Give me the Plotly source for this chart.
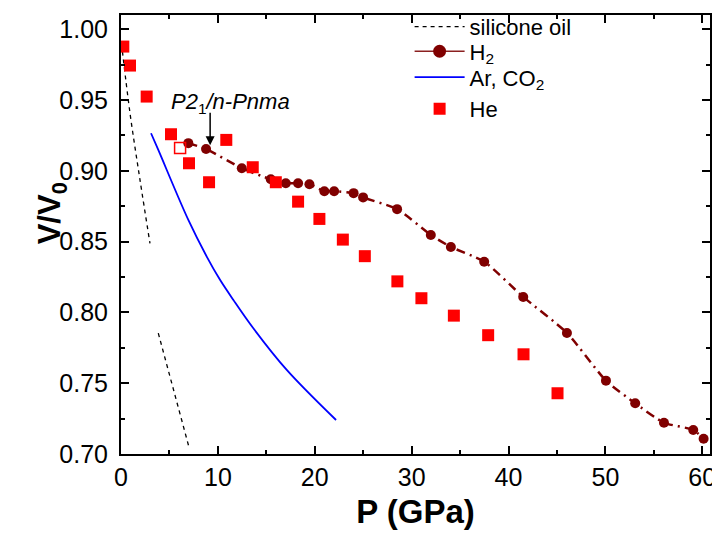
import plotly.graph_objects as go

# ---- data ----
sil_hi_p = [0.05, 0.93, 1.96, 2.99]
sil_hi_v = [0.990, 0.9407, 0.8936, 0.8488]
sil_lo_p = [3.85, 5.40, 7.05]
sil_lo_v = [0.7853, 0.7452, 0.7040]

h2_p = [6.95, 8.78, 12.47, 15.46, 17.01, 18.28, 19.45, 20.99, 22.00, 24.01, 24.99,
        28.50, 31.98, 34.05, 37.49, 41.52, 46.03, 50.06, 53.08, 56.05, 59.07, 60.14]
h2_v = [0.9195, 0.9154, 0.9018, 0.8940, 0.8912, 0.8912, 0.8905, 0.8856, 0.8856, 0.8842, 0.8812,
        0.8729, 0.8547, 0.8462, 0.8358, 0.8109, 0.7855, 0.7518, 0.7358, 0.7221, 0.7170, 0.7108]

ar_p = [3.10, 3.85, 6.95, 8.85, 10.22, 11.60, 13.66, 17.11, 22.20]
ar_v = [0.9265, 0.9147, 0.8653, 0.8394, 0.8230, 0.8088, 0.7888, 0.7594, 0.7240]

he_p = [0.24, 0.93, 2.65, 5.16, 7.02, 9.09, 10.87, 13.60, 15.98, 18.28, 20.48,
        22.90, 25.17, 28.53, 31.01, 34.36, 37.90, 41.55, 45.06]
he_v = [0.9877, 0.9743, 0.9524, 0.9258, 0.9053, 0.8919, 0.9218, 0.9025, 0.8919, 0.8782, 0.8660,
        0.8514, 0.8397, 0.8219, 0.8100, 0.7977, 0.7839, 0.7704, 0.7429]

he_open_p = [6.10]
he_open_v = [0.916]

x_ticks = [0, 10, 20, 30, 40, 50, 60]
y_ticks = [0.70, 0.75, 0.80, 0.85, 0.90, 0.95, 1.00]

DARK = "#800000"
FONT = "Liberation Sans, Arial"

fig = go.Figure()

fig.add_trace(go.Scatter(x=sil_hi_p, y=sil_hi_v, mode="lines", name="silicone oil", legend="legend",
                         line=dict(color="black", width=1.3, dash="4px,4px"), line_shape="spline"))
fig.add_trace(go.Scatter(x=sil_lo_p, y=sil_lo_v, mode="lines", showlegend=False,
                         line=dict(color="black", width=1.3, dash="4px,4px")))
# legend stand-in for H2 (solid line with circle)
fig.add_trace(go.Scatter(x=[None], y=[None], mode="lines+markers", name="H<sub>2</sub>", legend="legend2",
                         line=dict(color="#8b2020", width=1.5),
                         marker=dict(symbol="circle", size=13, color=DARK)))
fig.add_trace(go.Scatter(x=h2_p, y=h2_v, mode="lines+markers", showlegend=False,
                         line=dict(color=DARK, width=2.5, dash="9px,5px,2px,5px", shape="spline", smoothing=0.6),
                         marker=dict(symbol="circle", size=10, color=DARK)))
fig.add_trace(go.Scatter(x=ar_p, y=ar_v, mode="lines", name="Ar, CO<sub>2</sub>", legend="legend3",
                         line=dict(color="#0000ff", width=1.8, shape="spline")))
fig.add_trace(go.Scatter(x=he_p, y=he_v, mode="markers", name="He", legend="legend4",
                         marker=dict(symbol="square", size=12, color="#ff0000")))
fig.add_trace(go.Scatter(x=he_open_p, y=he_open_v, mode="markers", showlegend=False,
                         marker=dict(symbol="square-open", size=11, color="#ff0000", line=dict(width=1.5))))

# annotation with arrow
fig.add_annotation(x=9.2, y=0.918, xref="x", yref="y", ax=0, ay=-34, text="",
                   showarrow=True, arrowhead=2, arrowsize=1.2, arrowwidth=1.5, arrowcolor="black")
fig.add_annotation(x=11.3, y=0.948, xref="x", yref="y", showarrow=False,
                   text="<i>P</i><i>2</i><sub>1</sub><i>/n-Pnma</i>",
                   font=dict(family=FONT, size=22, color="black"))

# y-axis title (placed as in the reference, above the axis middle)
fig.add_annotation(x=-0.153, y=0.548, xref="paper", yref="paper", showarrow=False, textangle=-90,
                   text="<b>V/V<sub>0</sub></b>", font=dict(family=FONT, size=31, color="black"))

axis_common = dict(showline=True, linewidth=2, linecolor="black", mirror="allticks",
                   ticks="inside", ticklen=8, tickwidth=1.5, tickcolor="black",
                   showgrid=False, zeroline=False, automargin=False,
                   tickfont=dict(family=FONT, size=25, color="black"))

fig.update_xaxes(range=[0, 60.8], tickvals=x_ticks, ticktext=[str(v) for v in x_ticks],
                 minor=dict(ticks="inside", ticklen=4, dtick=5, tick0=0, tickcolor="black", tickwidth=1.5),
                 title=dict(text="<b>P (GPa)</b>", standoff=10,
                            font=dict(family=FONT, size=33, color="black")),
                 **axis_common)
fig.update_yaxes(range=[0.70, 1.01], tickvals=y_ticks, ticktext=[f"{v:.2f}" for v in y_ticks],
                 minor=dict(ticks="inside", ticklen=4, dtick=0.025, tick0=0.7, tickcolor="black", tickwidth=1.5),
                 ticklabelstandoff=6,
                 **axis_common)

leg_common = dict(x=0.49, xanchor="left", yanchor="middle", bgcolor="rgba(0,0,0,0)",
                  font=dict(family=FONT, size=22, color="black"), itemwidth=50)

# page body adds an 8px offset, so the figure is sized/margined to compensate
fig.update_layout(width=712, height=533, margin=dict(l=113, r=10, t=7, b=87, autoexpand=False),
                  plot_bgcolor="white", paper_bgcolor="white",
                  legend=dict(y=0.973, **leg_common),
                  legend2=dict(y=0.917, **leg_common),
                  legend3=dict(y=0.858, **leg_common),
                  legend4=dict(y=0.786, **leg_common))

fig.write_html("out.html")
